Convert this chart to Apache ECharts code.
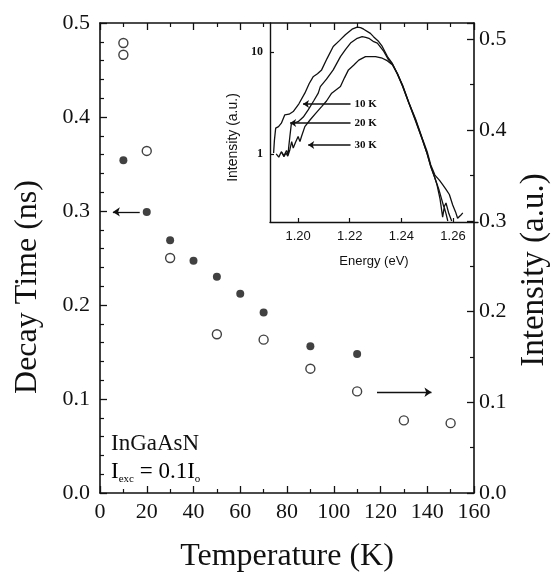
<!DOCTYPE html>
<html>
<head>
<meta charset="utf-8">
<script src="https://cdn.jsdelivr.net/npm/echarts@6/dist/echarts.min.js"></script>
<style>
html, body { margin: 0; padding: 0; background: #fff; }
#chart { width: 559px; height: 579px; }
</style>
</head>
<body>
<div id="chart"></div>
<script>
// main panel: decay time (filled, left axis) and intensity (open, right axis)
var decayTemps = [10, 20, 30, 40, 50, 60, 70, 90, 110];
var decayTime = [0.354, 0.299, 0.269, 0.247, 0.230, 0.212, 0.192, 0.156, 0.148];
var intTemps = [10, 10, 20, 30, 50, 70, 90, 110, 130, 150];
var intensity = [0.496, 0.483, 0.377, 0.259, 0.175, 0.169, 0.137, 0.112, 0.080, 0.077];

// inset: PL spectra (log intensity) at 10, 20, 30 K
var e10 = [1.1905, 1.1908, 1.1913, 1.1924, 1.1935, 1.1948, 1.1965, 1.1981, 1.2003, 1.2026, 1.2043, 1.2058, 1.2075, 1.2091, 1.2112, 1.2136, 1.2160, 1.2183, 1.2209, 1.2229, 1.2242, 1.2254, 1.2280, 1.2292, 1.2310, 1.2326, 1.2346, 1.2365, 1.2385, 1.2405, 1.2429, 1.2455, 1.2482, 1.2500, 1.2514, 1.2528, 1.2538, 1.2550, 1.2560, 1.2566, 1.2573, 1.2580];
var i10 = [1.02, 1.35, 1.79, 1.85, 2.0, 2.41, 2.45, 2.6, 3.1, 3.94, 4.9, 5.7, 6.1, 6.66, 8.6, 11.3, 12.9, 14.7, 16.7, 17.5, 17.3, 16.7, 15.2, 14.1, 12.8, 11.3, 9.0, 7.7, 6.1, 4.6, 3.16, 2.15, 1.37, 1.0, 0.75, 0.6, 0.50, 0.36, 0.24, 0.30, 0.26, 0.22];
var e20 = [1.1915, 1.1925, 1.1935, 1.1945, 1.1955, 1.1961, 1.1964, 1.1968, 1.1974, 1.1986, 1.2000, 1.2020, 1.2039, 1.2060, 1.2078, 1.2086, 1.2110, 1.2136, 1.2164, 1.2184, 1.2203, 1.2229, 1.2248, 1.2262, 1.2274, 1.2293, 1.2307, 1.2332, 1.2351, 1.2365, 1.2385, 1.2405, 1.2429, 1.2455, 1.2482, 1.2500, 1.2514, 1.2530, 1.2545, 1.2556, 1.2565, 1.2573, 1.2584, 1.2595];
var i20 = [1.0, 0.93, 1.05, 0.96, 1.08, 0.98, 1.2, 1.48, 2.0, 2.02, 2.07, 2.3, 2.7, 3.3, 3.94, 4.57, 5.4, 6.66, 9.0, 10.6, 12.2, 13.6, 14.1, 13.9, 13.6, 12.6, 12.2, 10.1, 8.3, 7.6, 6.0, 4.6, 3.16, 2.1, 1.37, 1.0, 0.75, 0.58, 0.45, 0.36, 0.30, 0.33, 0.26, 0.22];
var e30 = [1.1935, 1.1945, 1.1953, 1.1960, 1.1968, 1.1975, 1.1981, 1.1990, 1.2000, 1.2007, 1.2013, 1.2026, 1.2046, 1.2068, 1.2091, 1.2110, 1.2130, 1.2164, 1.2180, 1.2195, 1.2215, 1.2235, 1.2261, 1.2274, 1.2300, 1.2326, 1.2345, 1.2365, 1.2385, 1.2405, 1.2429, 1.2455, 1.2482, 1.2500, 1.2514, 1.2530, 1.2548, 1.2560, 1.2573, 1.2586, 1.2599, 1.2610, 1.2618, 1.2630, 1.2638];
var i30 = [1.05, 0.94, 1.02, 0.95, 1.1, 1.32, 1.14, 1.3, 1.48, 1.32, 1.48, 1.85, 2.15, 2.5, 2.91, 3.3, 3.94, 4.57, 5.6, 6.66, 7.4, 8.3, 9.0, 9.0, 9.0, 8.67, 8.2, 7.5, 6.1, 4.7, 3.2, 2.2, 1.4, 1.05, 0.78, 0.62, 0.55, 0.50, 0.45, 0.40, 0.316, 0.27, 0.234, 0.25, 0.264];

// inset legend arrows: label, start energy, intensity level
var keyNames = ['10 K', '20 K', '30 K'];
var keyStart = [1.2019, 1.1969, 1.2039];
var keyLevel = [3.09, 2.01, 1.22];
var keyEnd = 1.2203;

var energyTicks = [1.20, 1.22, 1.24, 1.26];
var inTicks = [1, 10];

var ink = '#111';
var serif = 'Liberation Serif';
var sans = 'Liberation Sans';

function pairs(xs, ys) {
	var out = [], i;
	for (i = 0; i < xs.length; i++)
		out.push([xs[i], ys[i]]);
	return out;
}

var keyLines = [];
for (var k = 0; k < keyNames.length; k++) {
	keyLines.push([
		{ coord: [keyStart[k], keyLevel[k]], label: { formatter: keyNames[k] } },
		{ coord: [keyEnd, keyLevel[k]] }
	]);
}

var chart = echarts.init(document.getElementById('chart'), null, { renderer: 'canvas' });

var option = {
	backgroundColor: '#fff',
	animation: false,
	grid: [
		{ left: 100, top: 23, right: 81, bottom: 86 },
		{ left: 270, top: 23, width: 208, height: 199 }
	],
	xAxis: [
		{
			gridIndex: 0, type: 'value', position: 'bottom',
			min: 0, max: 160, interval: 20,
			name: 'Temperature (K)', nameLocation: 'middle', nameGap: 48,
			nameTextStyle: { fontFamily: serif, fontSize: 32, color: ink },
			axisLine: { onZero: false, lineStyle: { color: ink, width: 1.6 } },
			axisTick: { inside: true, length: 7, lineStyle: { color: ink, width: 1.3 } },
			minorTick: { show: true, splitNumber: 2, length: 4, lineStyle: { color: ink, width: 1.2 } },
			axisLabel: { margin: 8, fontFamily: serif, fontSize: 22, color: ink },
			splitLine: { show: false }
		},
		{
			gridIndex: 0, type: 'value', position: 'top',
			min: 0, max: 160, interval: 20,
			axisLine: { onZero: false, lineStyle: { color: ink, width: 1.6 } },
			axisTick: { inside: true, length: 7, lineStyle: { color: ink, width: 1.3 } },
			minorTick: { show: true, splitNumber: 2, length: 4, lineStyle: { color: ink, width: 1.2 } },
			axisLabel: { show: false },
			splitLine: { show: false }
		},
		{
			gridIndex: 1, type: 'value', position: 'bottom',
			min: 1.1891, max: 1.2697,
			name: 'Energy (eV)', nameLocation: 'middle', nameGap: 33,
			nameTextStyle: { fontFamily: sans, fontSize: 13, color: ink },
			axisLine: { onZero: false, lineStyle: { color: ink, width: 1.4 } },
			axisTick: { inside: true, length: 4, customValues: energyTicks, lineStyle: { color: ink, width: 1.2 } },
			axisLabel: {
				margin: 8, fontFamily: sans, fontSize: 13, color: ink,
				customValues: energyTicks,
				formatter: function (v) { return v.toFixed(2); }
			},
			splitLine: { show: false }
		}
	],
	yAxis: [
		{
			gridIndex: 0, type: 'value', position: 'left',
			min: 0, max: 0.5, interval: 0.1,
			name: 'Decay Time (ns)', nameLocation: 'middle', nameGap: 56, nameRotate: 90,
			nameTextStyle: { fontFamily: serif, fontSize: 32, color: ink, padding: [0, 58, 0, 0] },
			axisLine: { onZero: false, lineStyle: { color: ink, width: 1.6 } },
			axisTick: { inside: true, length: 7, lineStyle: { color: ink, width: 1.3 } },
			minorTick: { show: true, splitNumber: 5, length: 4, lineStyle: { color: ink, width: 1.2 } },
			axisLabel: {
				margin: 10, fontFamily: serif, fontSize: 22, color: ink,
				formatter: function (v) { return v.toFixed(1); }
			},
			splitLine: { show: false }
		},
		{
			gridIndex: 0, type: 'value', position: 'right',
			min: 0, max: 0.518, interval: 0.1,
			name: 'Intensity (a.u.)', nameLocation: 'middle', nameGap: 44, nameRotate: 90,
			nameTextStyle: { fontFamily: serif, fontSize: 33, color: ink, padding: [0, 24, 0, 0] },
			axisLine: { onZero: false, lineStyle: { color: ink, width: 1.6 } },
			axisTick: { inside: true, length: 7, lineStyle: { color: ink, width: 1.3 } },
			minorTick: { show: true, splitNumber: 2, length: 4, lineStyle: { color: ink, width: 1.2 } },
			axisLabel: {
				margin: 5, fontFamily: serif, fontSize: 22, color: ink,
				formatter: function (v) {
					return Math.abs(v * 10 - Math.round(v * 10)) < 1e-6 ? v.toFixed(1) : '';
				}
			},
			splitLine: { show: false }
		},
		{
			gridIndex: 1, type: 'log', logBase: 10, position: 'left',
			min: 0.215, max: 19.2,
			name: 'Intensity (a.u.)', nameLocation: 'middle', nameGap: 30, nameRotate: 90,
			nameTextStyle: { fontFamily: sans, fontSize: 14, color: ink, padding: [0, 30, 0, 0] },
			axisLine: { onZero: false, lineStyle: { color: ink, width: 1.4 } },
			axisTick: { inside: true, length: 4, customValues: inTicks, lineStyle: { color: ink, width: 1.2 } },
			axisLabel: { margin: 7, fontFamily: serif, fontWeight: 'bold', fontSize: 12, color: ink, customValues: inTicks },
			splitLine: { show: false }
		}
	],
	series: [
		{
			name: 'decay', type: 'scatter', xAxisIndex: 0, yAxisIndex: 0,
			symbol: 'circle', symbolSize: 8,
			itemStyle: { color: ink },
			data: pairs(decayTemps, decayTime),
			markLine: {
				silent: true, animation: false,
				symbol: ['arrow', 'none'], symbolSize: 7,
				lineStyle: { color: ink, type: 'solid', width: 1.3 },
				label: { show: false },
				data: [[{ coord: [5.5, 0.299] }, { coord: [17, 0.299] }]]
			}
		},
		{
			name: 'intensity', type: 'scatter', xAxisIndex: 0, yAxisIndex: 1,
			symbol: 'circle', symbolSize: 9,
			itemStyle: { color: '#fff', borderColor: ink, borderWidth: 1.4 },
			data: pairs(intTemps, intensity),
			markLine: {
				silent: true, animation: false,
				symbol: ['none', 'arrow'], symbolSize: 7,
				lineStyle: { color: ink, type: 'solid', width: 1.3 },
				label: { show: false },
				data: [[{ coord: [118.5, 0.111] }, { coord: [141.8, 0.111] }]]
			}
		},
		{
			name: '10 K', type: 'line', xAxisIndex: 2, yAxisIndex: 2,
			showSymbol: false, lineStyle: { color: ink, width: 1.3 },
			data: pairs(e10, i10)
		},
		{
			name: '20 K', type: 'line', xAxisIndex: 2, yAxisIndex: 2,
			showSymbol: false, lineStyle: { color: ink, width: 1.3 },
			data: pairs(e20, i20)
		},
		{
			name: '30 K', type: 'line', xAxisIndex: 2, yAxisIndex: 2,
			showSymbol: false, lineStyle: { color: ink, width: 1.3 },
			data: pairs(e30, i30),
			markLine: {
				silent: true, animation: false,
				symbol: ['arrow', 'none'], symbolSize: 6,
				lineStyle: { color: ink, type: 'solid', width: 1.6 },
				label: { show: true, position: 'end', distance: 4, fontFamily: serif, fontWeight: 'bold', fontSize: 11, color: ink },
				data: keyLines
			}
		}
	],
	graphic: [
		{
			type: 'text', left: 111, top: 432,
			style: { text: 'InGaAsN', font: '23px "Liberation Serif"', fill: ink }
		},
		{
			type: 'text', left: 111, top: 458,
			style: {
				text: '{a|I}{b|exc}{a| = 0.1I}{b|o}',
				rich: {
					a: { fontFamily: serif, fontSize: 23, lineHeight: 26, color: ink },
					b: { fontFamily: serif, fontSize: 11, lineHeight: 12, padding: [16, 0, 0, 0], color: ink }
				}
			}
		}
	]
};

chart.setOption(option);
</script>
</body>
</html>
